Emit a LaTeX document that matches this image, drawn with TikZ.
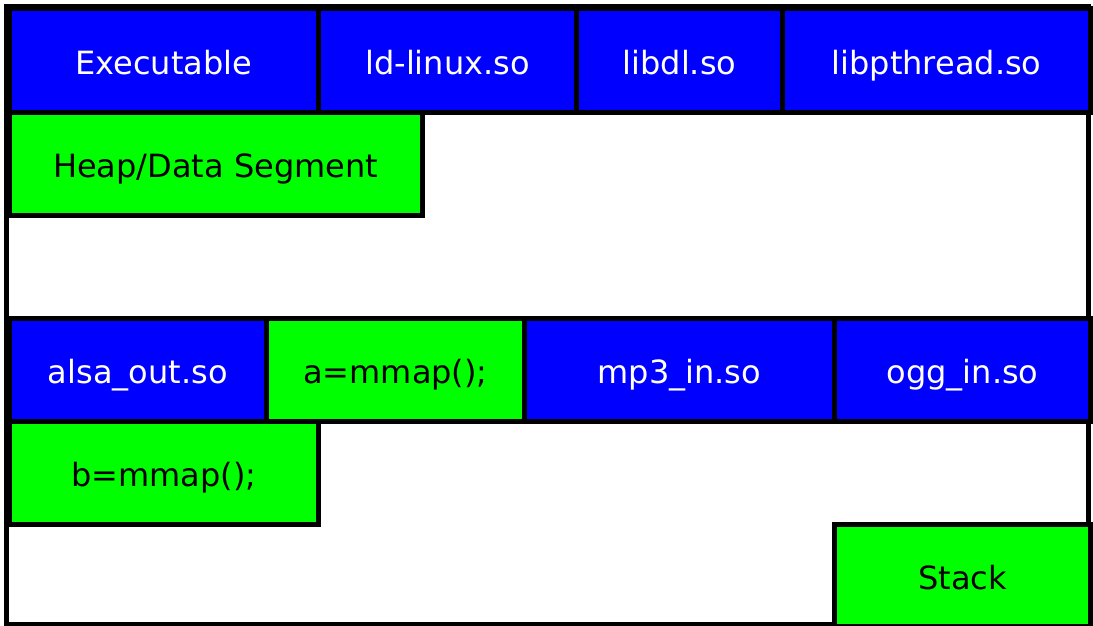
\documentclass[tikz,border=0pt]{standalone}
\usepackage{fontspec}
\setmainfont{DejaVu Sans}

\begin{document}
\begin{tikzpicture}[x = 1pt, y = -1pt,
  block/.style = {draw, line width=5pt, inner sep=0pt, anchor=north west,
                  minimum height=103pt, text height=31pt, text depth=3pt,
                  font=\fontsize{32}{32}\selectfont},
  lib/.style = {block, fill=blue, text=white},
  mem/.style = {block, fill=green, text=black},]

\useasboundingbox (0,0) rectangle (1093,626);
\fill[white] (0,0) rectangle (1093,626);
\draw[line width=5pt] (6.5,6.5) rectangle (1088,624);

\node[lib, minimum width=309.5pt] (EXE) at (6.5,6.5) {Executable};
\node[lib, minimum width=258pt] (LD) at (316,6.5) {ld-linux.so};
\node[lib, minimum width=206pt] (DL) at (574,6.5) {libdl.so};
\node[lib, minimum width=308pt] (PTHREAD) at (780,6.5) {libpthread.so};

\node[mem, minimum width=413.5pt] (HEAP) at (6.5,109.5) {Heap/Data Segment};

\node[lib, minimum width=257.5pt] (ALSA) at (6.5,315.5) {alsa\_out.so};
\node[mem, minimum width=258pt] (A) at (264,315.5) {a=mmap();};
\node[lib, minimum width=310pt] (MP3) at (522,315.5) {mp3\_in.so};
\node[lib, minimum width=256pt] (OGG) at (832,315.5) {ogg\_in.so};

\node[mem, minimum width=309.5pt] (B) at (6.5,418.5) {b=mmap();};

\node[mem, minimum width=256pt, minimum height=102.5pt] (STACK) at (832,521.5) {Stack};

\end{tikzpicture}
\end{document}
